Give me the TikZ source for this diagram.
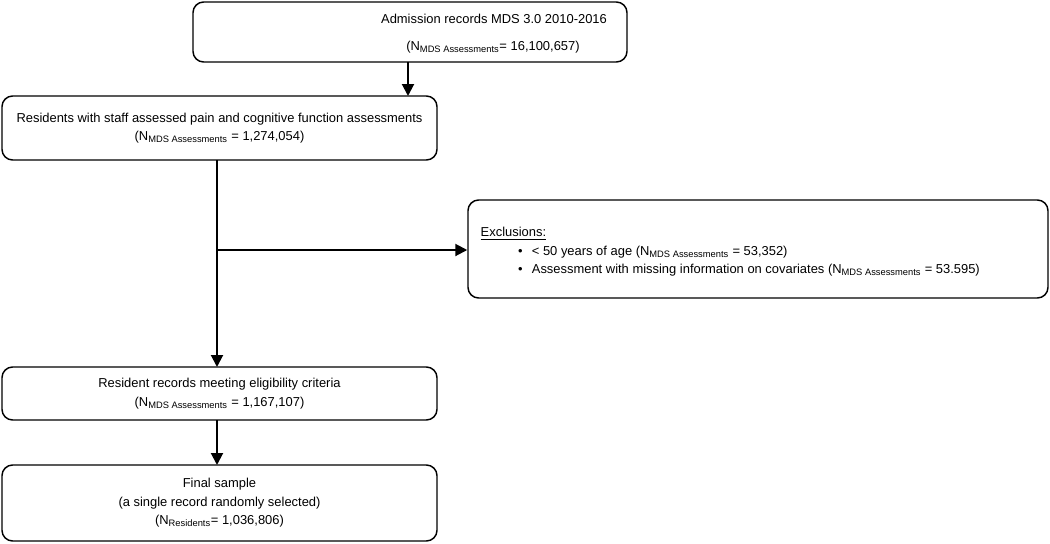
\documentclass[tikz,border=0pt]{standalone}
\usepackage{fontspec}
\setmainfont{Liberation Sans}
\usetikzlibrary{arrows.meta}
\newcommand{\Nsub}[1]{N\textsubscript{\scriptsize #1}}

\tikzset{
  flowbox/.style={draw, line width=1.1pt, rounded corners=8pt, align=center, inner sep=0pt},
  flowarrow/.style={-{Triangle[length=9pt,width=9pt]}, line width=1.5pt}
}

\begin{document}
\begin{tikzpicture}[x=0.75pt,y=-0.75pt,font=\fontsize{9.7}{13.8}\selectfont]
\useasboundingbox (0,0) rectangle (1050,543);
% boxes
\node[flowbox, minimum width=434*0.75pt, minimum height=60*0.75pt] (admission) at (410,32) {};
\node (admtitle) at (494,19) {Admission records MDS 3.0 2010-2016};
\node (admcount) at (493,47) {(\Nsub{MDS Assessments}= 16,100,657)};
\node[flowbox, minimum width=435*0.75pt, minimum height=64*0.75pt] (staff) at (219.5,128) {Residents with staff assessed pain and cognitive function assessments\\(\Nsub{MDS Assessments} = 1,274,054)};
\node[flowbox, minimum width=580*0.75pt, minimum height=98*0.75pt] (excl) at (758,249) {};
\node[anchor=west, align=left] (excltext) at (476,252) {\underline{Exclusions:}\\
  \hspace*{28pt}\textbullet\hspace{7pt}< 50 years of age (\Nsub{MDS Assessments} = 53,352)\\
  \hspace*{28pt}\textbullet\hspace{7pt}Assessment with missing information on covariates (\Nsub{MDS Assessments} = 53.595)};
\node[flowbox, minimum width=435*0.75pt, minimum height=53*0.75pt] (eligible) at (219.5,393.5) {Resident records meeting eligibility criteria\\(\Nsub{MDS Assessments} = 1,167,107)};
\node[flowbox, minimum width=435*0.75pt, minimum height=76*0.75pt] (final) at (219.5,503) {Final sample\\(a single record randomly selected)\\(\Nsub{Residents}= 1,036,806)};
% connectors
\coordinate (split) at (217,250);
\draw[flowarrow] (408,62) -- (408,96);
\draw[flowarrow] (217,160) -- (split) -- (217,367);
\draw[flowarrow] (split) -- (excl.west |- split);
\draw[flowarrow] (217,420) -- (217,465);
\end{tikzpicture}
\end{document}
